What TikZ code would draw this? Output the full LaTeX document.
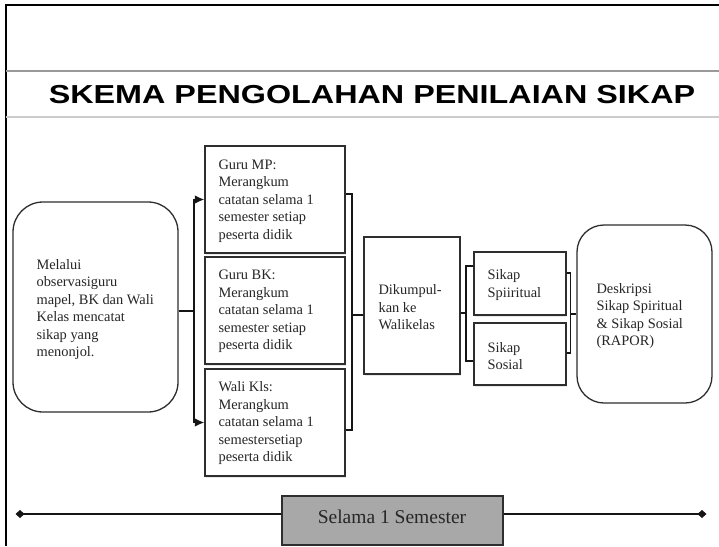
\documentclass[tikz,border=0pt]{standalone}
\usepackage{fontspec}
\setmainfont{Liberation Serif}
\newfontfamily\titlefont{Liberation Sans}
\usetikzlibrary{arrows.meta,calc,shadows}
\definecolor{boxc}{HTML}{2E2E2E}
\definecolor{txtc}{HTML}{262626}
\definecolor{gfill}{HTML}{A8A8A8}
\definecolor{connc}{HTML}{151515}
\begin{document}
\begin{tikzpicture}[x=1pt,y=-1pt,
  rbox/.style={draw=boxc, line width=1.3pt, fill=white, inner sep=0pt},
  sbox/.style={rbox, drop shadow={shadow xshift=0.5pt, shadow yshift=-2pt, fill=black!15, opacity=0.6}},
  txt/.style={inner sep=0pt, align=left, text=txtc, font=\fontsize{14.4}{17.5}\selectfont},
  conn/.style={draw=connc, line width=1.6pt},
  tip/.style={-{Latex[length=9.5pt,width=8.5pt]}}
]
\useasboundingbox (0,0) rectangle (719,546);
\fill[white] (0,0) rectangle (719,546);
% frame and title rules
\draw[line width=2pt, black] (6,546) -- (6,5) -- (719,5);
\draw[line width=1.5pt, black!40] (6,71) -- (719,71);
\draw[line width=1.5pt, black!20] (6,117) -- (719,117);
\node[inner sep=0pt, anchor=base] (title) at (372,103.5)
  {\scalebox{1.243}[1]{\titlefont\bfseries\fontsize{26}{30}\selectfont SKEMA PENGOLAHAN PENILAIAN SIKAP}};

% left rounded box
\node[rbox, rounded corners=30pt, minimum width=165, minimum height=210] (L) at (95.5,307) {};
\node[txt, anchor=west] (Lt) at ([xshift=24pt,yshift=-2.5pt]L.west)
  {Melalui\\observasiguru\\mapel, BK dan Wali\\Kelas mencatat\\sikap yang\\menonjol.};

% three boxes
\node[sbox, minimum width=140, minimum height=107] (MP) at (275,199.5) {};
\node[txt, anchor=west] (MPt) at ([xshift=14pt,yshift=-1.5pt]MP.west)
  {Guru MP:\\Merangkum\\catatan selama 1\\semester setiap\\peserta didik};
\node[sbox, minimum width=140, minimum height=107] (BK) at (275,310.5) {};
\node[txt, anchor=west] (BKt) at ([xshift=14pt,yshift=-1pt]BK.west)
  {Guru BK:\\Merangkum\\catatan selama 1\\semester setiap\\peserta didik};
\node[sbox, minimum width=140, minimum height=107] (WK) at (275,422.5) {};
\node[txt, anchor=west] (WKt) at ([xshift=14pt,yshift=-1pt]WK.west)
  {Wali Kls:\\Merangkum\\catatan selama 1\\semestersetiap\\peserta didik};

% collector box
\node[sbox, minimum width=96, minimum height=137] (D) at (412,305.5) {};
\node[txt, anchor=west] (Dt) at ([xshift=15pt,yshift=-2pt]D.west)
  {Dikumpul-\\kan ke\\Walikelas};

% sikap boxes
\node[sbox, minimum width=92, minimum height=63] (SS) at (520,283.5) {};
\node[txt, anchor=west] (SSt) at ([xshift=14pt,yshift=-1.5pt]SS.west) {Sikap\\Spiiritual};
\node[sbox, minimum width=92, minimum height=62] (SO) at (520,354) {};
\node[txt, anchor=west] (SOt) at ([xshift=14pt,yshift=-2pt]SO.west) {Sikap\\Sosial};

% result rounded box
\node[rbox, rounded corners=27pt, minimum width=135, minimum height=178] (R) at (644.5,314) {};
\node[txt, anchor=west] (Rt) at ([xshift=20pt,yshift=-2pt]R.west)
  {Deskripsi\\Sikap Spiritual\\\& Sikap Sosial\\(RAPOR)};

% connectors left
\coordinate (jl) at (194,311);
\draw[conn] (L.east |- jl) -- (jl);
\draw[conn, tip] (jl) |- (MP.west);
\draw[conn, tip] (jl) |- (WK.west);

% connectors to collector
\coordinate (jr) at (352,315);
\draw[conn] ([yshift=5.5pt]MP.east) -| (jr);
\draw[conn] ([yshift=-7.5pt]WK.east) -| (jr);
\draw[conn] (jr) -- (jr -| D.west);

% collector to sikap
\coordinate (js) at (466,313);
\draw[conn] (D.east |- js) -- (js);
\draw[conn] (js) |- ([yshift=17.5pt]SS.west);
\draw[conn] (js) |- ([yshift=-7pt]SO.west);

% sikap to result
\coordinate (jR) at (570.5,314);
\draw[conn] ([yshift=10.5pt]SS.east) -| (jR);
\draw[conn] ([yshift=1.3pt]SO.east) -| (jR);
\draw[conn] (jR) -- (jR -| R.west);

% bottom timeline
\node[draw=boxc, line width=1.3pt, fill=gfill, inner sep=0pt, minimum width=221, minimum height=49] (G) at (392.5,520.5) {};
\node[inner sep=0pt, text=txtc, font=\fontsize{19.5}{22}\selectfont] (Gt) at (392,517) {Selama 1 Semester};
\coordinate (dl) at (15.5,514);
\coordinate (dr) at (706.5,514);
\draw[conn, {Diamond[length=9pt,width=8pt]}-] (dl) -- (dl -| G.west);
\draw[conn, -{Diamond[length=9pt,width=8pt]}] (G.east |- dr) -- (dr);
\end{tikzpicture}
\end{document}
